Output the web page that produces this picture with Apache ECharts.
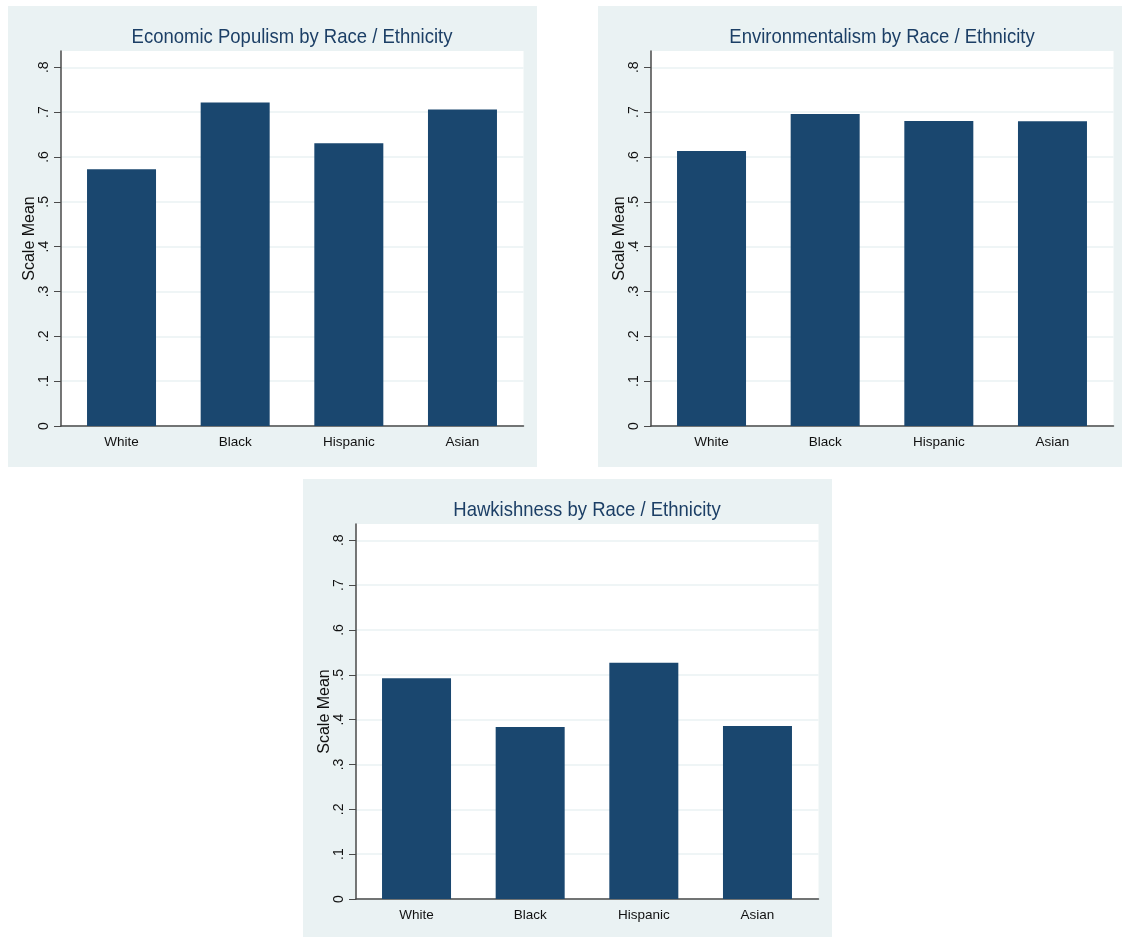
<!DOCTYPE html>
<html>
<head>
<meta charset="utf-8">
<script src="https://cdn.jsdelivr.net/npm/echarts@6/dist/echarts.min.js"></script>
<style>
  html, body { margin: 0; padding: 0; background: #fff; overflow: hidden; }
  body { width: 1122px; height: 937px; position: relative; }
  .panel { position: absolute; width: 529px; height: 461px; background: #eaf2f3; }
</style>
</head>
<body>
<div id="chart1" class="panel" style="left:8px;top:6px;"></div>
<div id="chart2" class="panel" style="left:598px;top:6px;"></div>
<div id="chart3" class="panel" style="left:303px;top:479px;"></div>
<script>
var categories = ["White", "Black", "Hispanic", "Asian"];
var populism = [0.5725, 0.7212, 0.6305, 0.7056];
var environment = [0.6134, 0.6959, 0.6803, 0.6796];
var hawkish = [0.4922, 0.3836, 0.527, 0.3859];
var yTicks = [0, 0.1, 0.2, 0.3, 0.4, 0.5, 0.6, 0.7, 0.8];
var titles = [
  "Economic Populism by Race / Ethnicity",
  "Environmentalism by Race / Ethnicity",
  "Hawkishness by Race / Ethnicity"
];

var sans = "'Liberation Sans', Arial, sans-serif";
var yMax = 0.8363; // top of plot region, a bit above .8

function drawPanel(id, title, values) {
  var myChart = echarts.init(document.getElementById(id));
  var axisColor = "#4a4a4a";
  var option = {
    animation: false,
    backgroundColor: "transparent",
    graphic: [
      {
        type: "text",
        x: 284,
        y: 31,
        scaleY: 1.1,
        style: {
          text: title,
          fill: "#1c3f66",
          fontSize: 18.5,
          fontFamily: sans,
          align: "center",
          verticalAlign: "middle",
        },
      },
    ],
    grid: [
      // white plot area with axes
      { left: 53, right: 13.5, top: 45, bottom: 41, show: true, backgroundColor: "#fff", borderWidth: 0 },
      // bars sit a bit inside the axes
      { left: 56.7, right: 17.7, top: 45, bottom: 41 },
    ],
    xAxis: [
      {
        gridIndex: 0,
        type: "category",
        data: categories,
        axisLine: { lineStyle: { color: axisColor, width: 1.5 } },
        axisTick: { show: false },
        axisLabel: { show: false },
        splitLine: { show: false },
      },
      {
        gridIndex: 1,
        type: "category",
        data: categories,
        axisLine: { show: false },
        axisTick: { show: false },
        axisLabel: { margin: 9, color: "#111", fontSize: 13.5, fontFamily: sans },
      },
    ],
    yAxis: [
      {
        gridIndex: 0,
        type: "value",
        min: 0,
        max: yMax,
        name: "Scale Mean",
        nameLocation: "middle",
        nameGap: 23,
        nameMoveOverlap: false,
        nameTextStyle: { color: "#111", fontSize: 16, fontFamily: sans },
        axisLine: { show: true, lineStyle: { color: axisColor, width: 1.5 } },
        axisTick: { show: true, length: 7, customValues: yTicks, lineStyle: { color: axisColor } },
        axisLabel: {
          customValues: yTicks,
          rotate: 90,
          margin: 10,
          color: "#111",
          fontSize: 14,
          fontFamily: sans,
          formatter: function (v) {
            return v === 0 ? "0" : v.toFixed(1).replace(/^0/, "");
          },
        },
        splitLine: { show: true, lineStyle: { color: "#eaf2f3", width: 1.5 } },
      },
      { gridIndex: 1, type: "value", min: 0, max: yMax, show: false },
    ],
    series: [
      {
        type: "bar",
        xAxisIndex: 1,
        yAxisIndex: 1,
        data: values,
        barWidth: 69,
        itemStyle: { color: "#1a476f" },
      },
    ],
  };
  myChart.setOption(option);
}

drawPanel("chart1", titles[0], populism);
drawPanel("chart2", titles[1], environment);
drawPanel("chart3", titles[2], hawkish);
</script>
</body>
</html>
